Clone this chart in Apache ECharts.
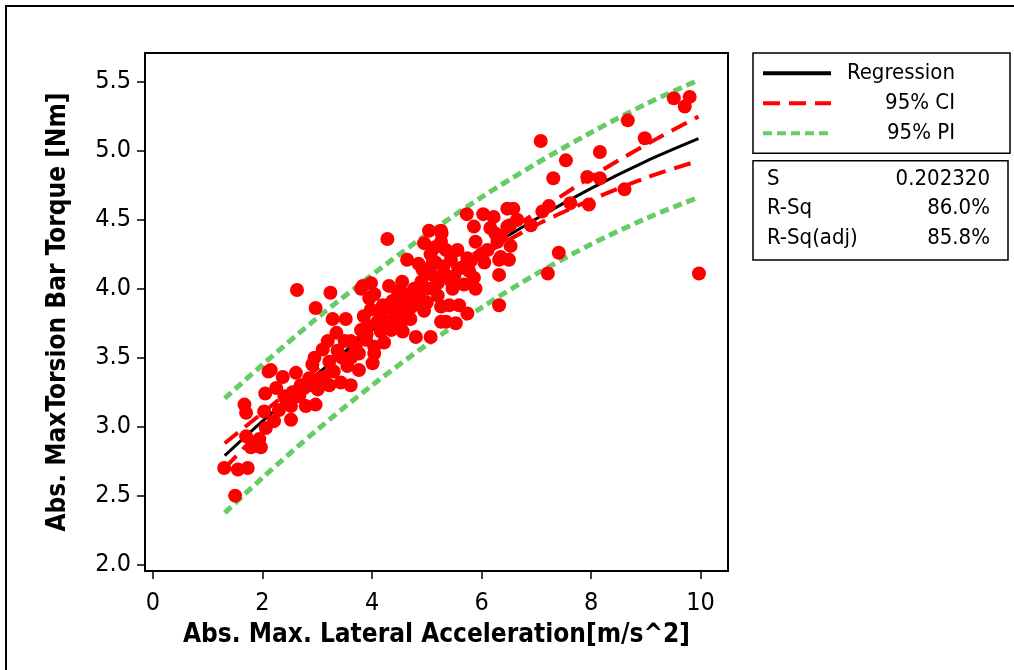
<!DOCTYPE html>
<html>
<head>
<meta charset="utf-8">
<script src="https://cdn.jsdelivr.net/npm/echarts@6/dist/echarts.min.js"></script>
<style>html,body{margin:0;padding:0;background:#fff}#c{width:1014px;height:670px}</style>
</head>
<body>
<div id="c"></div>
<script>
// ---- data ----
const accel = [
 9.51,9.80,9.71,8.67,8.98,8.16,7.54,7.08,7.31,7.93,8.16,8.61,7.62,7.96,7.23,7.11,7.41,7.21,9.97,
 6.47,6.58,6.90,5.73,6.03,6.22,5.86,6.16,6.52,6.36,6.53,5.27,5.89,6.11,5.56,5.44,5.74,6.05,6.32,6.50,5.32,5.50,5.86,6.32,5.47,5.68,5.89,5.41,5.59,5.74,6.32,5.35,5.53,
 6.47,5.04,5.26,4.95,5.26,4.28,6.29,4.64,5.07,5.16,6.35,4.92,5.77,3.98,4.31,4.77,5.01,3.80,4.04,4.47,4.59,4.37,4.86,5.26,3.98,4.16,4.47,4.68,4.95,5.26,3.92,4.16,4.40,4.56,4.80,5.07,3.89,4.04,4.01,
 2.63,3.24,2.97,3.83,3.28,3.52,4.62,3.80,3.19,3.61,4.22,3.10,3.37,3.76,4.04,2.91,3.22,3.55,3.76,2.37,2.61,2.85,3.13,3.43,3.61,2.76,3.01,3.22,2.40,2.67,2.97,2.79,2.52,2.21,2.52,2.15,
 2.11,2.05,1.67,1.70,2.03,2.43,2.06,1.70,1.94,1.79,1.97,1.30,1.55,1.73,1.50,
 4.30,4.45,4.52,4.70,4.90,5.10,5.20,4.62,3.70,3.90,4.10,3.45,3.30,4.40,5.00,5.30,5.62,5.80,6.00,4.76,3.62,3.05,2.90,2.70,3.50,3.85,4.20,4.55,5.15,3.35,2.95,2.55,2.30,3.95,4.85,5.35,6.25,6.65,2.25,
 4.70,5.00,5.20,4.90,4.35,5.45,4.60,5.10
];
const torque = [
 5.38,5.39,5.32,5.22,5.09,4.99,4.93,5.07,4.80,4.81,4.80,4.72,4.62,4.61,4.60,4.56,4.26,4.11,4.11,
 4.58,4.58,4.46,4.54,4.54,4.52,4.45,4.44,4.46,4.38,4.31,4.40,4.34,4.28,4.28,4.21,4.22,4.19,4.21,4.21,4.11,4.09,4.08,4.10,4.00,4.03,4.00,3.88,3.88,3.82,3.88,3.76,3.75,
 4.45,4.42,4.42,4.33,4.34,4.36,4.34,4.21,4.25,4.19,4.23,4.14,4.13,4.04,4.02,4.00,4.00,4.00,3.96,3.98,3.92,3.91,3.93,3.87,3.85,3.81,3.82,3.85,3.84,3.76,3.73,3.69,3.75,3.69,3.65,3.65,3.63,3.58,3.46,
 3.99,3.97,3.86,4.02,3.78,3.78,3.80,3.70,3.62,3.62,3.61,3.56,3.55,3.53,3.53,3.45,3.47,3.44,3.41,3.36,3.39,3.35,3.36,3.32,3.30,3.28,3.27,3.30,3.22,3.22,3.16,3.15,3.15,3.04,3.05,3.41,
 3.40,3.24,3.16,3.10,3.11,3.20,2.99,2.93,2.91,2.85,2.85,2.70,2.69,2.70,2.50,
 3.75,3.86,3.72,3.90,4.05,4.10,4.04,3.96,3.58,3.67,3.76,3.50,3.40,3.83,4.12,4.16,4.15,4.20,4.25,3.88,3.50,3.35,3.30,3.30,3.62,3.80,3.88,4.05,4.30,3.68,3.50,3.25,3.12,3.93,4.18,4.28,4.40,4.50,3.28,
 3.78,3.90,3.95,4.00,3.70,4.05,3.85,4.18
];
const curveX     = [1.31, 2, 3, 4, 5, 6, 7, 8, 9, 9.96];
const regression = [2.79, 3.04, 3.383, 3.70, 3.994, 4.263, 4.507, 4.727, 4.923, 5.087];
const ciUpper    = [2.88, 3.10, 3.42, 3.725, 4.016, 4.289, 4.552, 4.810, 5.043, 5.247];
const ciLower    = [2.70, 2.98, 3.346, 3.675, 3.972, 4.237, 4.462, 4.644, 4.803, 4.927];
const piUpper    = [3.205, 3.45, 3.788, 4.10, 4.394, 4.663, 4.907, 5.132, 5.338, 5.512];
const piLower    = [2.375, 2.63, 2.978, 3.30, 3.594, 3.863, 4.107, 4.322, 4.508, 4.662];
const xTicks = [0, 2, 4, 6, 8, 10];
const yTicks = [2.0, 2.5, 3.0, 3.5, 4.0, 4.5, 5.0, 5.5];
const statLabels = ['S', 'R-Sq', 'R-Sq(adj)'];
const statValues = ['0.202320', '86.0%', '85.8%'];
const legendNames = ['Regression', '95% CI', '95% PI'];

// ---- chart ----
const F = '"DejaVu Sans Condensed", "DejaVu Sans", sans-serif';
const pairs = (xs, ys) => xs.map((x, i) => [x, ys[i]]);
const chart = echarts.init(document.getElementById('c'), null, {renderer: 'canvas'});

const statY = [179, 208.5, 238];
const graphics = [
  {type: 'rect', shape: {x: 6, y: 6, width: 1200, height: 1000}, style: {fill: 'none', stroke: '#000', lineWidth: 2}, silent: true},
  {type: 'rect', shape: {x: 753, y: 160.7, width: 255, height: 99.3}, style: {fill: '#fff', stroke: '#000', lineWidth: 1.5}, silent: true}
];
statLabels.forEach((t, i) => {
  graphics.push({type: 'text', x: 767, y: statY[i], style: {text: t, font: '22px ' + F, fill: '#000', textAlign: 'left', textVerticalAlign: 'middle'}, silent: true});
  graphics.push({type: 'text', x: 990, y: statY[i], style: {text: statValues[i], font: '22px ' + F, fill: '#000', textAlign: 'right', textVerticalAlign: 'middle'}, silent: true});
});

const lineCommon = {type: 'line', symbol: 'none', smooth: 0.3, silent: true, z: 2};
chart.setOption({
  animation: false,
  backgroundColor: '#fff',
  grid: {left: 145, right: 286, top: 53, bottom: 99, show: true, borderColor: '#000', borderWidth: 2, backgroundColor: '#fff'},
  xAxis: {
    type: 'value', min: -0.146, max: 10.5,
    name: 'Abs. Max. Lateral Acceleration[m/s^2]', nameLocation: 'middle', nameGap: 51,
    nameTextStyle: {fontFamily: F, fontSize: 26, fontWeight: 'bold', color: '#000'},
    axisLine: {onZero: false, lineStyle: {color: '#000', width: 2}},
    axisTick: {customValues: xTicks, length: 8, lineStyle: {color: '#000', width: 1.5}},
    axisLabel: {customValues: xTicks, margin: 20, fontFamily: F, fontSize: 25, color: '#000'},
    splitLine: {show: false}
  },
  yAxis: {
    type: 'value', min: 1.954, max: 5.708,
    name: 'Abs. MaxTorsion Bar Torque [Nm]', nameLocation: 'middle', nameGap: 74,
    nameTextStyle: {fontFamily: F, fontSize: 26, fontWeight: 'bold', color: '#000'},
    axisLine: {onZero: false, lineStyle: {color: '#000', width: 2}},
    axisTick: {customValues: yTicks, length: 8, lineStyle: {color: '#000', width: 1.5}},
    axisLabel: {customValues: yTicks, margin: 14, fontFamily: F, fontSize: 25, color: '#000', formatter: v => v.toFixed(1)},
    splitLine: {show: false}
  },
  legend: {
    data: legendNames, orient: 'vertical', left: 753, top: 53,
    padding: [9.3, 55, 9, 8], itemGap: 8, itemWidth: 68, itemHeight: 4,
    itemStyle: {opacity: 0},
    lineStyle: {width: 4},
    borderColor: '#000', borderWidth: 1.5, backgroundColor: '#fff',
    selectedMode: false,
    formatter: name => '{t|' + name + '}',
    textStyle: {rich: {t: {width: 119, align: 'right', fontFamily: F, fontSize: 22, lineHeight: 22, color: '#000'}}}
  },
  graphic: graphics,
  series: [
    Object.assign({}, lineCommon, {name: '95% PI', data: pairs(curveX, piUpper), itemStyle: {color: '#66CC66'}, lineStyle: {color: '#66CC66', width: 5, type: [9, 5]}}),
    Object.assign({}, lineCommon, {name: '95% PI', data: pairs(curveX, piLower), itemStyle: {color: '#66CC66'}, lineStyle: {color: '#66CC66', width: 5, type: [9, 5]}}),
    Object.assign({}, lineCommon, {name: '95% CI', data: pairs(curveX, ciUpper), itemStyle: {color: '#FF0000'}, lineStyle: {color: '#FF0000', width: 4, type: [17, 9]}}),
    Object.assign({}, lineCommon, {name: '95% CI', data: pairs(curveX, ciLower), itemStyle: {color: '#FF0000'}, lineStyle: {color: '#FF0000', width: 4, type: [17, 9]}}),
    Object.assign({}, lineCommon, {name: 'Regression', data: pairs(curveX, regression), itemStyle: {color: '#000'}, lineStyle: {color: '#000', width: 3, type: 'solid'}}),
    {type: 'scatter', name: 'Data', data: pairs(accel, torque), symbol: 'circle', symbolSize: 14,
     itemStyle: {color: '#FF0000', opacity: 1}, silent: true, z: 3}
  ]
});
</script>
</body>
</html>
